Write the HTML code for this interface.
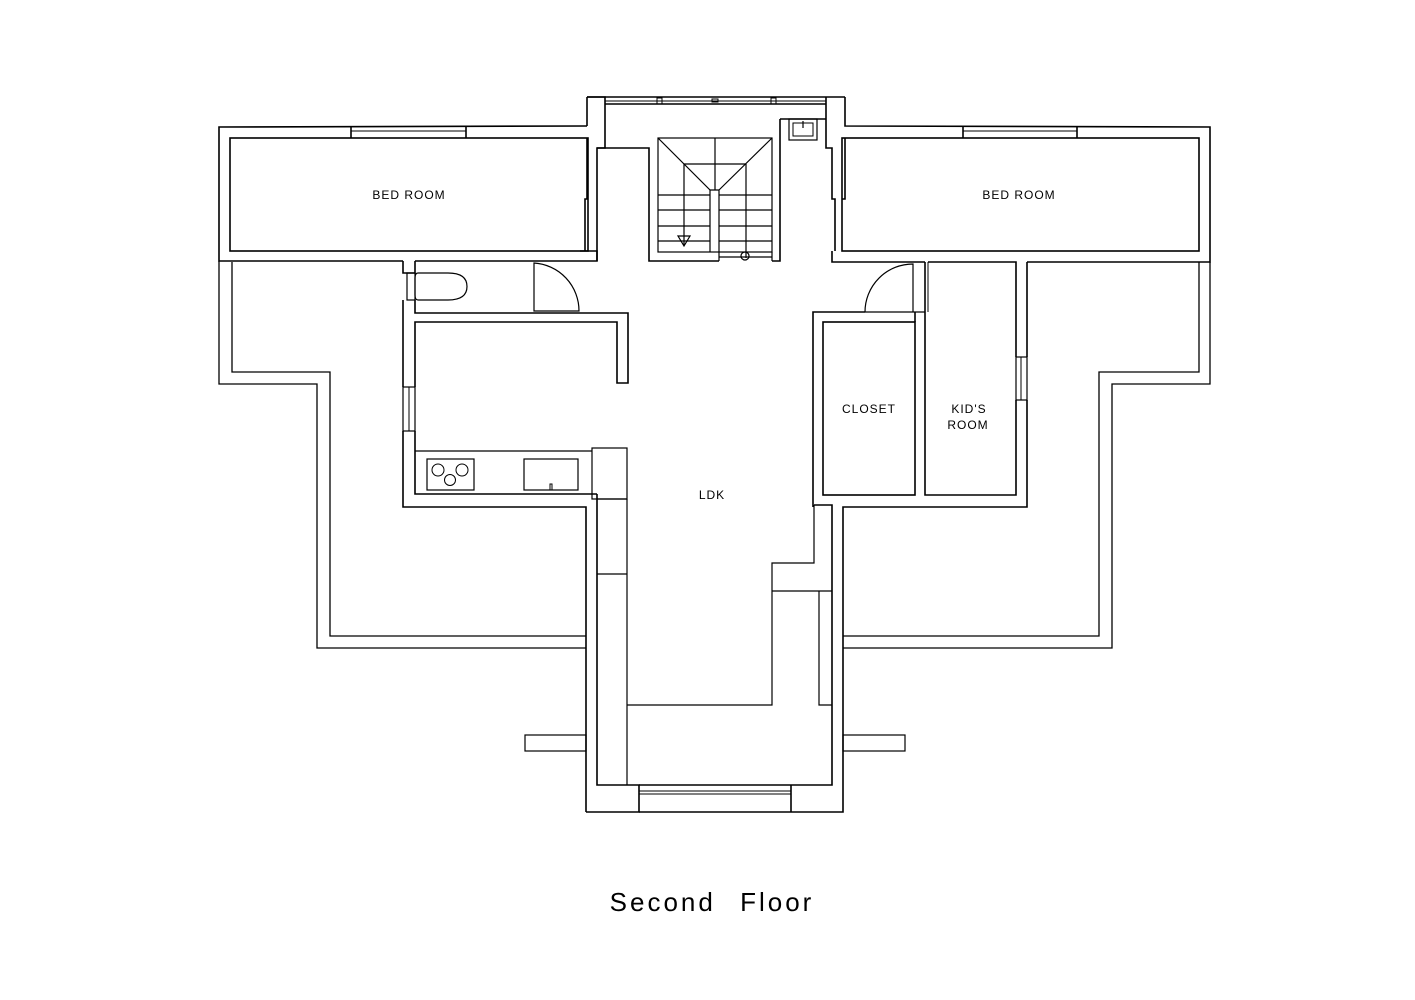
<!DOCTYPE html>
<html><head><meta charset="utf-8"><style>
html,body{margin:0;padding:0;background:#fff;width:1415px;height:1000px;overflow:hidden}
svg{display:block}
text{font-family:"Liberation Sans","DejaVu Sans",sans-serif;fill:#000}
</style></head><body>
<svg width="1415" height="1000" viewBox="0 0 1415 1000" xmlns="http://www.w3.org/2000/svg">
<g fill="none" stroke="#000" stroke-width="1.6" stroke-linejoin="miter">
<!-- Left bedroom -->
<polyline points="587,126 219,127 219,261 403,261"/>
<rect x="230" y="138" width="358" height="113"/>
<line x1="351" y1="131" x2="466" y2="131" stroke-width="1"/>
<line x1="351" y1="127" x2="351" y2="138"/><line x1="466" y1="127" x2="466" y2="138"/>
<polyline points="587,97 587,126"/>
<polyline points="587,138 587,199 585,199 585,251"/>
<polyline points="580,251 597,251 597,261 415,261"/>
<!-- Central top -->
<line x1="587" y1="97" x2="845" y2="97"/>
<line x1="605" y1="104" x2="826" y2="104"/>
<line x1="605" y1="101" x2="826" y2="101" stroke-width="1"/>
<rect x="657" y="98" width="5" height="6" stroke-width="1"/><rect x="712" y="99" width="6" height="3" stroke-width="1"/><rect x="771" y="98" width="5" height="6" stroke-width="1"/>
<polyline points="587,97 605,97 605,148 597,148 597,261"/>
<polyline points="597,148 649,148 649,261 719,261"/>
<polyline points="845,97 845,126 1210,127 1210,262 1027,262"/>
<polyline points="826,97 826,148 832,148 832,199 835,199 835,251"/>
<line x1="826" y1="119" x2="780" y2="119"/>
<polyline points="780,119 780,261 772,261"/>
<rect x="842" y="138" width="357" height="113"/>
<line x1="963" y1="131" x2="1077" y2="131" stroke-width="1"/>
<line x1="963" y1="127" x2="963" y2="138"/><line x1="1077" y1="127" x2="1077" y2="138"/>
<polyline points="845,138 845,199 842,199"/>
<rect x="789" y="119" width="28" height="21" stroke-width="1.2"/>
<rect x="793" y="123" width="20" height="13" stroke-width="1"/>
<line x1="803" y1="121" x2="803" y2="128" stroke-width="1.2"/>
<!-- stairs -->
<rect x="658" y="138" width="114" height="114" stroke-width="1.2"/>
<line x1="658" y1="138" x2="710" y2="190" stroke-width="1.2"/>
<line x1="772" y1="138" x2="719" y2="190" stroke-width="1.2"/>
<line x1="715" y1="138" x2="715" y2="190" stroke-width="1.2"/>
<line x1="684" y1="164" x2="746" y2="164" stroke-width="1.2"/>
<line x1="684" y1="164" x2="684" y2="245" stroke-width="1.2"/>
<line x1="746" y1="164" x2="746" y2="258" stroke-width="1.2"/>
<polyline points="710,252 710,190 719,190 719,261" stroke-width="1.2"/>
<g stroke-width="1.2">
<line x1="658" y1="195" x2="710" y2="195"/><line x1="658" y1="210" x2="710" y2="210"/><line x1="658" y1="226" x2="710" y2="226"/><line x1="658" y1="241" x2="710" y2="241"/>
<line x1="719" y1="195" x2="772" y2="195"/><line x1="719" y1="210" x2="772" y2="210"/><line x1="719" y1="226" x2="772" y2="226"/><line x1="719" y1="241" x2="772" y2="241"/><line x1="719" y1="257" x2="772" y2="257"/>
<line x1="772" y1="252" x2="772" y2="261"/>
<polygon points="678,236 690,236 684,246"/>
<circle cx="745" cy="256" r="4"/>
</g>
<!-- left lower: toilet, kitchen -->
<polyline points="403,261 403,273 415,273 415,261"/>
<rect x="407" y="273" width="8" height="27" stroke-width="1.2"/>
<polyline points="403,300 403,387"/>
<rect x="403" y="387" width="12" height="44" stroke-width="1.2"/>
<line x1="409" y1="387" x2="409" y2="431" stroke-width="1"/>
<polyline points="403,431 403,507 586,507 586,812"/>
<polyline points="415,300 415,313 628,313 628,383 617,383 617,322 415,322 415,387"/>
<path d="M418,273 L448,273 Q467,273 467,286.5 Q467,300 448,300 L418,300 Q415,300 415,295 L415,278 Q415,273 418,273 Z" stroke-width="1.2"/>
<path d="M534,311 L534,263 A48,48 0 0 1 579,311 Z" stroke-width="1.2"/>
<polyline points="415,431 415,494 597,494"/>
<line x1="415" y1="451" x2="592" y2="451" stroke-width="1.2"/>
<rect x="592" y="448" width="35" height="51" stroke-width="1.2"/>
<rect x="427" y="459" width="47" height="31" stroke-width="1.2"/>
<circle cx="438" cy="470" r="6" stroke-width="1"/><circle cx="462" cy="470" r="6" stroke-width="1"/><circle cx="450" cy="480" r="5.5" stroke-width="1"/>
<rect x="524" y="459" width="54" height="31" stroke-width="1.2"/>
<rect x="550" y="484" width="2" height="6" stroke-width="1"/>
<!-- lower centre -->
<polyline points="597,494 597,785 639,785 639,812 587,812 586,812"/>
<line x1="627" y1="499" x2="627" y2="785" stroke-width="1.2"/>
<line x1="597" y1="574" x2="627" y2="574" stroke-width="1.2"/>
<line x1="597" y1="499" x2="627" y2="499" stroke-width="1.2"/>
<polyline points="639,785 791,785"/>
<line x1="639" y1="791" x2="791" y2="791" stroke-width="1"/>
<line x1="639" y1="794" x2="791" y2="794" stroke-width="1"/>
<polyline points="639,812 791,812"/>
<line x1="791" y1="785" x2="791" y2="812"/>
<polyline points="791,785 832,785 832,505 814,505"/>
<polyline points="791,812 843,812 843,507 1027,507 1027,400"/>
<polyline points="814,505 814,563 772,563 772,705 627,705" stroke-width="1.2"/>
<line x1="772" y1="591" x2="832" y2="591" stroke-width="1.2"/>
<polyline points="832,705 819,705 819,591" stroke-width="1.2"/>
<rect x="525" y="735" width="61" height="16" stroke-width="1.2"/>
<rect x="843" y="735" width="62" height="16" stroke-width="1.2"/>
<!-- right lower -->
<polyline points="832,251 832,262 925,262"/>
<polyline points="928,262 1016,262 1016,357"/>
<polyline points="1027,262 1027,357"/>
<rect x="1016" y="357" width="11" height="43" stroke-width="1.2"/>
<line x1="1021" y1="357" x2="1021" y2="400" stroke-width="1"/>
<polyline points="1016,400 1016,495 925,495 925,312"/>
<rect x="823" y="322" width="92" height="173"/>
<polyline points="813,507 813,312 865,312"/>
<line x1="865" y1="312" x2="925" y2="312" stroke-width="1.2"/>
<line x1="925" y1="262" x2="925" y2="312"/><line x1="928" y1="262" x2="928" y2="312" stroke-width="1"/>
<path d="M913,312 L913,264 A48,48 0 0 0 865,312" stroke-width="1.2"/>
<line x1="915" y1="312" x2="915" y2="322"/>
<!-- terraces -->
<polyline points="219,261 219,384 317,384 317,648 586,648" stroke-width="1.3"/>
<polyline points="232,262 232,372 330,372 330,636 586,636" stroke-width="1.3"/>
<polyline points="1210,262 1210,384 1112,384 1112,648 843,648" stroke-width="1.3"/>
<polyline points="1199,262 1199,372 1099,372 1099,636 843,636" stroke-width="1.3"/>
</g>
<g font-size="12" text-anchor="middle" letter-spacing="1">
<text x="409" y="199">BED   ROOM</text>
<text x="1019" y="199">BED   ROOM</text>
<text x="712" y="499">LDK</text>
<text x="869" y="413">CLOSET</text>
<text x="969" y="413">KID'S</text>
<text x="968" y="429">ROOM</text>
</g>
<text x="712" y="911" font-size="26" text-anchor="middle" letter-spacing="3" word-spacing="14">Second Floor</text>
</svg>
</body></html>
